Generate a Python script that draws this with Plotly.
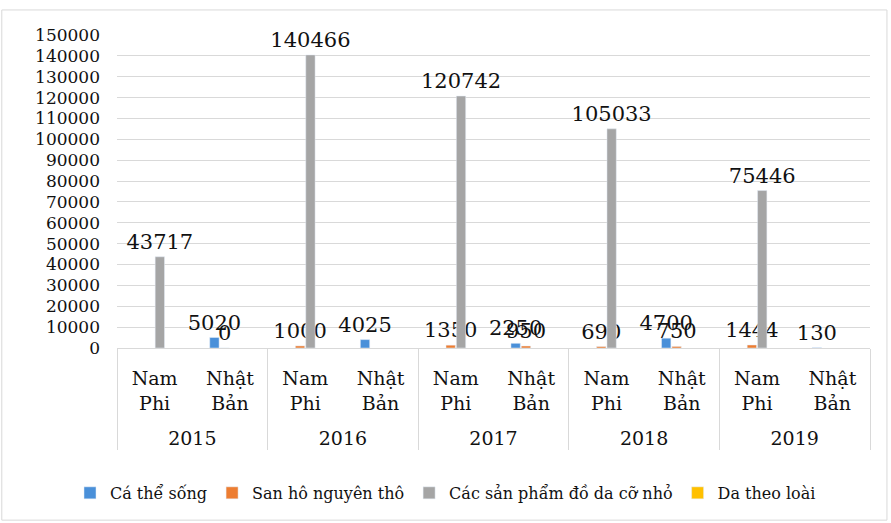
import plotly.graph_objects as go

years = ["<br>2015", "<br>2015", "<br>2016", "<br>2016", "<br>2017", "<br>2017",
         "<br>2018", "<br>2018", "<br>2019", "<br>2019"]
countries = ["Nam<br>Phi", "Nhật<br>Bản"] * 5

ca_the_song = [None, 5020, None, 4025, None, 2250, None, 4700, None, 130]
san_ho = [None, 0, 1000, None, 1350, 950, 690, 750, 1444, None]
do_da = [43717, None, 140466, None, 120742, None, 105033, None, 75446, None]
da_theo_loai = [None] * 10

series = [
    ("Cá thể sống", ca_the_song, "#4a90d9"),
    ("San hô nguyên thô", san_ho, "#ed7d31"),
    ("Các sản phẩm đồ da cỡ nhỏ", do_da, "#a5a5a5"),
    ("Da theo loài", da_theo_loai, "#ffc000"),
]

FONT = "DejaVu Serif"

fig = go.Figure()
for name, vals, color in series:
    fig.add_trace(go.Bar(
        name=name,
        x=[years, countries],
        y=vals,
        marker_color=color,
        text=[("" if v is None else str(v)) for v in vals],
        textposition="outside",
        textangle=0,
        constraintext="none",
        textfont=dict(family=FONT, size=21, color="#111"),
        cliponaxis=False,
    ))

fig.update_layout(
    width=891,
    height=523,
    barmode="group",
    bargap=0.45,
    bargroupgap=0.1,
    plot_bgcolor="white",
    paper_bgcolor="white",
    font=dict(family=FONT, size=18, color="#111"),
    margin=dict(l=117, r=21, t=35, b=175),
    legend=dict(
        orientation="h",
        x=0.5,
        xanchor="center",
        xref="container",
        yref="container",
        y=0.025,
        yanchor="bottom",
        font=dict(family=FONT, size=16, color="#111"),
        itemwidth=30,
        tracegroupgap=0,
    ),
    shapes=[dict(type="rect", xref="paper", yref="paper",
                 x0=-0.153, x1=1.0225, y0=-0.55, y1=1.08,
                 line=dict(color="#d9d9d9", width=1))],
)
fig.layout.barcornerradius = 0

fig.update_yaxes(
    range=[0, 150000],
    dtick=10000,
    tickformat="d",
    showgrid=True,
    gridcolor="#d9d9d9",
    zeroline=False,
    showline=False,
    automargin=False,
    ticklabelstandoff=16,
    tickfont=dict(family=FONT, size=17, color="#111"),
    ticks="",
)
fig.update_xaxes(
    type="multicategory",
    showdividers=True,
    dividercolor="#d9d9d9",
    dividerwidth=1,
    showline=True,
    linecolor="#d9d9d9",
    automargin=False,
    ticklabelstandoff=13,
    ticks="",
    tickfont=dict(family=FONT, size=19, color="#111"),
)

fig.write_html("out.html", config={"displayModeBar": False},
               post_script="document.body.style.margin='0';")
